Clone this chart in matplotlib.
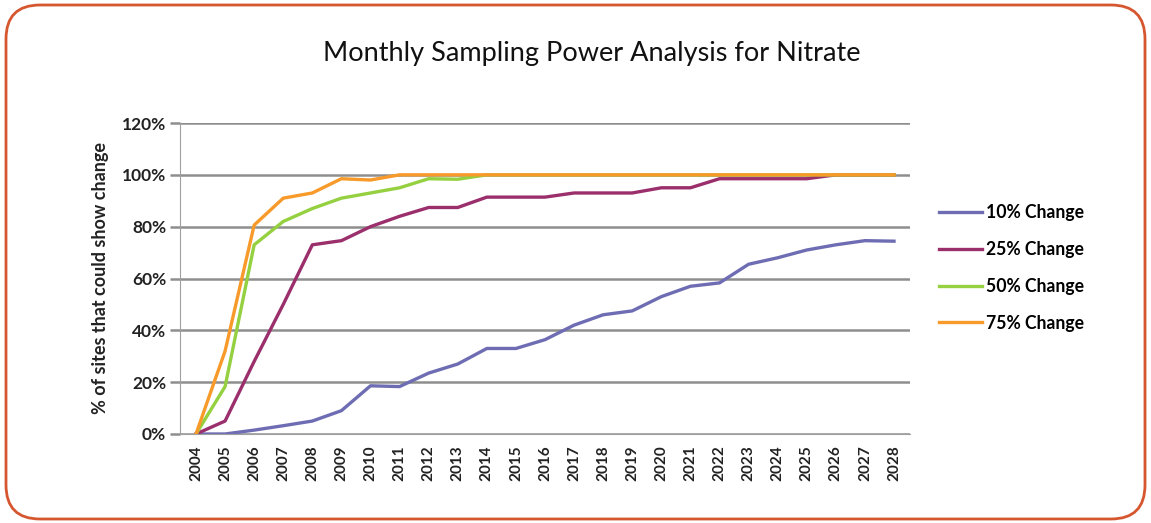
import matplotlib
matplotlib.use('Agg')
import matplotlib.pyplot as plt
from matplotlib.patches import FancyBboxPatch
from matplotlib.transforms import IdentityTransform
from matplotlib.ticker import PercentFormatter

years = [str(y) for y in range(2004, 2029)]

change_10 = [0, 0, 1.5, 3.2, 5, 9, 18.6, 18.3, 23.5, 27, 33, 33, 36.4, 42,
             46, 47.5, 53, 57, 58.3, 65.5, 68, 71, 73, 74.6, 74.4]
change_25 = [0, 5, 28, 50, 73, 74.6, 80, 84, 87.4, 87.4, 91.4, 91.4, 91.4, 93,
             93, 93, 95, 95, 98.5, 98.5, 98.5, 98.5, 100, 100, 100]
change_50 = [0, 18.3, 73, 82, 87, 91, 93, 95, 98.5, 98.3, 100, 100, 100, 100,
             100, 100, 100, 100, 100, 100, 100, 100, 100, 100, 100]
change_75 = [0, 32, 80.6, 91, 93, 98.5, 98, 100, 100, 100, 100, 100, 100, 100,
             100, 100, 100, 100, 100, 100, 100, 100, 100, 100, 100]

series = [
    ('10% Change', change_10, '#6e6db3'),
    ('25% Change', change_25, '#9a2f6c'),
    ('50% Change', change_50, '#94d040'),
    ('75% Change', change_75, '#f79a2a'),
]

plt.rcParams['font.family'] = ['Lato', 'DejaVu Sans']

fig = plt.figure(figsize=(11.51, 5.23), dpi=100)
ax = fig.add_axes([180 / 1151, 1 - 434 / 523, 730 / 1151, 311 / 523])

x = list(range(len(years)))
for label, vals, col in series:
    ax.plot(x, vals, color=col, lw=2.4, label=label, solid_joinstyle='round')

ax.set_xlim(-0.55, len(years) - 0.45)
ax.set_ylim(0, 120)
ax.set_yticks(range(0, 121, 20))
ax.yaxis.set_major_formatter(PercentFormatter(decimals=0))
ax.set_xticks(x)
ax.set_xticklabels(years, rotation=90, fontweight='bold', fontsize=11)
for t in ax.get_yticklabels():
    t.set_fontweight('bold')
    t.set_fontsize(12.5)

ax.grid(axis='y', color='#8e8e8e', lw=1.8)
ax.set_axisbelow(True)
for s in ['top', 'right']:
    ax.spines[s].set_visible(False)
ax.spines['left'].set_color('#a0a0a0')
ax.spines['bottom'].set_color('#a0a0a0')
ax.tick_params(axis='y', length=7, color='#8e8e8e', width=1.8, pad=3, labelcolor='#222222')
ax.tick_params(axis='x', length=0, pad=8, labelcolor='#222222')

ax.set_ylabel('% of sites that could show change', fontweight='bold', fontsize=13,
              color='#222222', labelpad=9)

fig.text(592 / 1151, 1 - 53 / 523, 'Monthly Sampling Power Analysis for Nitrate',
         ha='center', va='center', fontsize=19.5, color='#111111')

leg = ax.legend(loc='upper left', bbox_to_anchor=(923 / 1151, 1 - 188 / 523),
                bbox_transform=fig.transFigure, frameon=False,
                prop={'weight': 'bold', 'size': 12.7}, handlelength=2.45,
                handletextpad=0.2, labelspacing=1.13)
for line in leg.get_lines():
    line.set_linewidth(2.4)

frame = FancyBboxPatch((6, 4), 1139, 514, boxstyle='round,pad=0,rounding_size=34',
                       transform=IdentityTransform(), fill=False,
                       edgecolor='#d5562f', lw=2.0)
fig.patches.append(frame)

fig.savefig('out.png', dpi=100)
